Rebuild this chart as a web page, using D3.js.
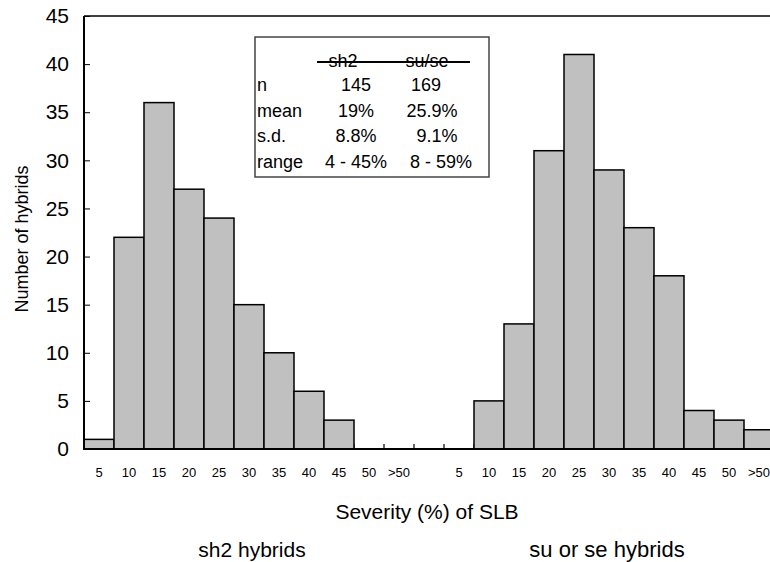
<!DOCTYPE html>
<html>
<head>
<meta charset="utf-8">
<script src="https://cdn.jsdelivr.net/npm/d3@7"></script>
<style>
  html, body { margin: 0; padding: 0; background: #fff; }
  svg { display: block; font-family: "Liberation Sans", Arial, sans-serif; }
</style>
</head>
<body>
<svg id="chart" width="770" height="562"></svg>
<script>
// ---- data ----
const categories = ["5", "10", "15", "20", "25", "30", "35", "40", "45", "50", ">50"];
const sh2Counts  = [1, 22, 36, 27, 24, 15, 10, 6, 3, 0, 0];
const suseCounts = [0, 5, 13, 31, 41, 29, 23, 18, 4, 3, 2];
const yTicks = [0, 5, 10, 15, 20, 25, 30, 35, 40, 45];
const groupNames = ["sh2 hybrids", "su or se hybrids"];
const xTitle = "Severity (%) of SLB";
const yTitle = "Number of hybrids";
const tableHeader = ["sh2", "su/se"];
const tableRowLabels = ["n", "mean", "s.d.", "range"];
const tableSh2 = ["145", "19%", "8.8%", "4 - 45%"];
const tableSuse = ["169", "25.9%", "9.1%", "8 - 59%"];

// ---- layout ----
const svg = d3.select("#chart");
const mLeft = 84, mTop = 16, mBottom = 449, mRight = 774;

const slots = [];
categories.forEach(c => slots.push("L" + c));
slots.push("gap");
categories.forEach(c => slots.push("R" + c));

const x = d3.scaleBand().domain(slots).range([mLeft, mRight]).padding(0);
const y = d3.scaleLinear().domain([0, 45]).range([mBottom, mTop]);

const bars = [];
categories.forEach((c, i) => bars.push({ key: "L" + c, v: sh2Counts[i] }));
categories.forEach((c, i) => bars.push({ key: "R" + c, v: suseCounts[i] }));

// x boundary ticks (pointing up)
const bounds = slots.map(s => x(s)).concat([mRight]);
svg.append("g").selectAll("line").data(bounds).join("line")
  .attr("x1", d => d).attr("x2", d => d)
  .attr("y1", mBottom).attr("y2", mBottom - 5)
  .attr("stroke", "#000").attr("stroke-width", 1.2);

// bars
svg.append("g").selectAll("rect").data(bars.filter(d => d.v > 0)).join("rect")
  .attr("x", d => x(d.key))
  .attr("y", d => y(d.v))
  .attr("width", x.bandwidth())
  .attr("height", d => mBottom - y(d.v))
  .attr("fill", "#c0c0c0")
  .attr("stroke", "#000")
  .attr("stroke-width", 1.5);

// y axis (ticks inside)
const yAxis = d3.axisLeft(y).tickValues(yTicks).tickSizeInner(-6).tickSizeOuter(0).tickPadding(15);
const gy = svg.append("g").attr("transform", `translate(${mLeft},0)`).call(yAxis);
gy.select(".domain").remove();
gy.selectAll(".tick line").attr("stroke", "#000").attr("stroke-width", 1);
gy.selectAll(".tick text").attr("font-size", 21).attr("fill", "#000")
  .attr("font-family", "Liberation Sans, Arial, sans-serif");

// frame lines
svg.append("line").attr("x1", mLeft).attr("x2", 770).attr("y1", mTop).attr("y2", mTop)
  .attr("stroke", "#000").attr("stroke-width", 1.6);
svg.append("line").attr("x1", mLeft).attr("x2", mLeft).attr("y1", mTop).attr("y2", mBottom)
  .attr("stroke", "#000").attr("stroke-width", 2);
svg.append("line").attr("x1", mLeft - 1).attr("x2", 770).attr("y1", mBottom).attr("y2", mBottom)
  .attr("stroke", "#000").attr("stroke-width", 2.2);

// x tick labels
const xAxis = d3.axisBottom(x).tickSize(0).tickPadding(0)
  .tickFormat(d => d === "gap" ? "" : d.slice(1));
const gx = svg.append("g").attr("transform", `translate(0,${mBottom})`).call(xAxis);
gx.select(".domain").remove();
gx.selectAll(".tick text").attr("font-size", 13).attr("fill", "#000")
  .attr("dy", null).attr("y", 28)
  .attr("font-family", "Liberation Sans, Arial, sans-serif");

// titles
svg.append("text").attr("x", 427).attr("y", 519).attr("text-anchor", "middle")
  .attr("font-size", 21).text(xTitle);
svg.append("g").selectAll("text").data(groupNames).join("text")
  .attr("x", (d, i) => [252, 607][i]).attr("y", 557)
  .attr("text-anchor", "middle").attr("font-size", (d, i) => [21, 22][i]).text(d => d);
svg.append("text").attr("transform", "translate(28,239) rotate(-90)")
  .attr("text-anchor", "middle").attr("font-size", 18).text(yTitle);

// stats table
const tb = svg.append("g");
tb.append("rect").attr("x", 255).attr("y", 37).attr("width", 234).attr("height", 140)
  .attr("fill", "#fff").attr("stroke", "#444").attr("stroke-width", 1.5);
tb.selectAll(".hdr").data(tableHeader).join("text").attr("class", "hdr")
  .attr("x", (d, i) => [343, 427][i]).attr("y", 67).attr("text-anchor", "middle")
  .attr("font-size", 18).text(d => d);
tb.append("line").attr("x1", 317).attr("x2", 470).attr("y1", 62).attr("y2", 62)
  .attr("stroke", "#000").attr("stroke-width", 2);
const rowY = i => 91 + i * 25.5;
tb.selectAll(".lbl").data(tableRowLabels).join("text").attr("class", "lbl")
  .attr("x", 257).attr("y", (d, i) => rowY(i)).attr("font-size", 18).text(d => d);
tb.selectAll(".c1").data(tableSh2).join("text").attr("class", "c1")
  .attr("x", 356).attr("y", (d, i) => rowY(i)).attr("text-anchor", "middle")
  .attr("font-size", 18).text(d => d);
tb.selectAll(".c2").data(tableSuse).join("text").attr("class", "c2")
  .attr("x", (d, i) => [426, 432, 437, 441][i]).attr("y", (d, i) => rowY(i)).attr("text-anchor", "middle")
  .attr("font-size", 18).text(d => d);
</script>
</body>
</html>
